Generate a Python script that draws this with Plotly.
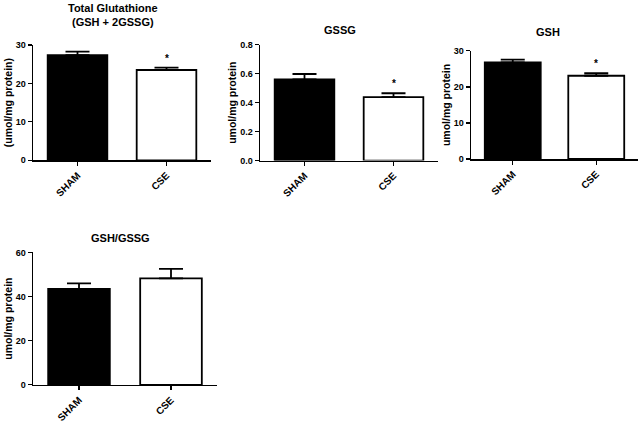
import plotly.graph_objects as go

groups = ["SHAM", "CSE"]

total_mean = [27.4, 23.5]
total_err = [0.9, 0.6]

gssg_mean = [0.56, 0.438]
gssg_err = [0.038, 0.027]

gsh_mean = [26.8, 23.1]
gsh_err = [0.8, 0.7]

ratio_mean = [43.5, 48.2]
ratio_err = [2.5, 4.3]

panels = [
    dict(title="Total Glutathione<br>(GSH + 2GSSG)", ytitle="(umol/mg protein)",
         mean=total_mean, err=total_err, yr=[0, 30], dt=10, star=True,
         xd=[33, 211], yd=[159, 41], tx=113, ty=10.5),
    dict(title="GSSG", ytitle="umol/mg protein",
         mean=gssg_mean, err=gssg_err, yr=[0, 0.8], dt=0.2, star=True,
         xd=[260, 438], yd=[159.3, 40.7], tx=340, ty=25.5),
    dict(title="GSH", ytitle="umol/mg protein",
         mean=gsh_mean, err=gsh_err, yr=[0, 30], dt=10, star=True,
         xd=[471, 638], yd=[157.7, 47], tx=548, ty=27.5),
    dict(title="GSH/GSSG", ytitle="umol/mg protein",
         mean=ratio_mean, err=ratio_err, yr=[0, 60], dt=20, star=False,
         xd=[33, 217], yd=[389, 253.3], tx=120, ty=239),
]

W, H = 643, 427
FONT = "Liberation Sans, Arial, sans-serif"

fig = go.Figure()
annotations = []
for i, p in enumerate(panels):
    n = "" if i == 0 else str(i + 1)
    fig.add_trace(go.Bar(
        x=[0, 1], y=p["mean"], width=0.67,
        marker=dict(color=["black", "white"], line=dict(color="black", width=1.8)),
        error_y=dict(type="data", symmetric=False, array=p["err"], arrayminus=[0, 0],
                     color="black", thickness=1.8, width=12),
        xaxis="x" + n, yaxis="y" + n, showlegend=False, cliponaxis=False,
        hoverinfo="skip",
    ))
    fd = [p["xd"][0] / W, p["xd"][1] / W]
    yd = [1 - p["yd"][0] / H, 1 - p["yd"][1] / H]
    fig.layout["xaxis" + n] = dict(
        domain=fd, range=[-0.5, 1.5], anchor="y" + n,
        tickmode="array", tickvals=[0, 1], ticktext=groups, tickangle=-45,
        showline=True, linecolor="black", linewidth=1.5, ticks="outside", ticklen=4,
        tickcolor="black", tickwidth=1.2, showgrid=False, zeroline=False,
        tickfont=dict(family=FONT, size=10, color="black", weight="bold"),
    )
    fig.layout["yaxis" + n] = dict(
        domain=yd, range=p["yr"], anchor="x" + n, dtick=p["dt"],
        tickformat=".1f" if p["dt"] < 1 else "d",
        showline=True, linecolor="black", linewidth=1.5, ticks="outside", ticklen=4,
        tickcolor="black", tickwidth=1.2, showgrid=False, zeroline=False,
        tickfont=dict(family=FONT, size=9, color="black", weight="bold"),
        title=dict(text=p["ytitle"], standoff=1,
                   font=dict(family=FONT, size=10.5, color="black", weight="bold")),
    )
    annotations.append(dict(
        text=p["title"], xref="paper", yref="paper", x=p["tx"] / W, y=1 - p["ty"] / H,
        xanchor="center", yanchor="middle", showarrow=False,
        font=dict(family=FONT, size=11, color="black", weight="bold"),
    ))
    if p["star"]:
        annotations.append(dict(
            text="*", xref="x" + n, yref="y" + n, x=1, y=p["mean"][1] + p["err"][1],
            xanchor="center", yanchor="bottom", yshift=2, showarrow=False,
            font=dict(family=FONT, size=10, color="black", weight="bold"),
        ))

fig.update_layout(
    width=W, height=H, margin=dict(l=0, r=0, t=0, b=0),
    paper_bgcolor="white", plot_bgcolor="white",
    annotations=annotations, hovermode=False,
)
fig.write_html("out.html", config={"displayModeBar": False, "staticPlot": True},
               post_script="document.body.style.margin='0';document.body.style.overflow='hidden';")
